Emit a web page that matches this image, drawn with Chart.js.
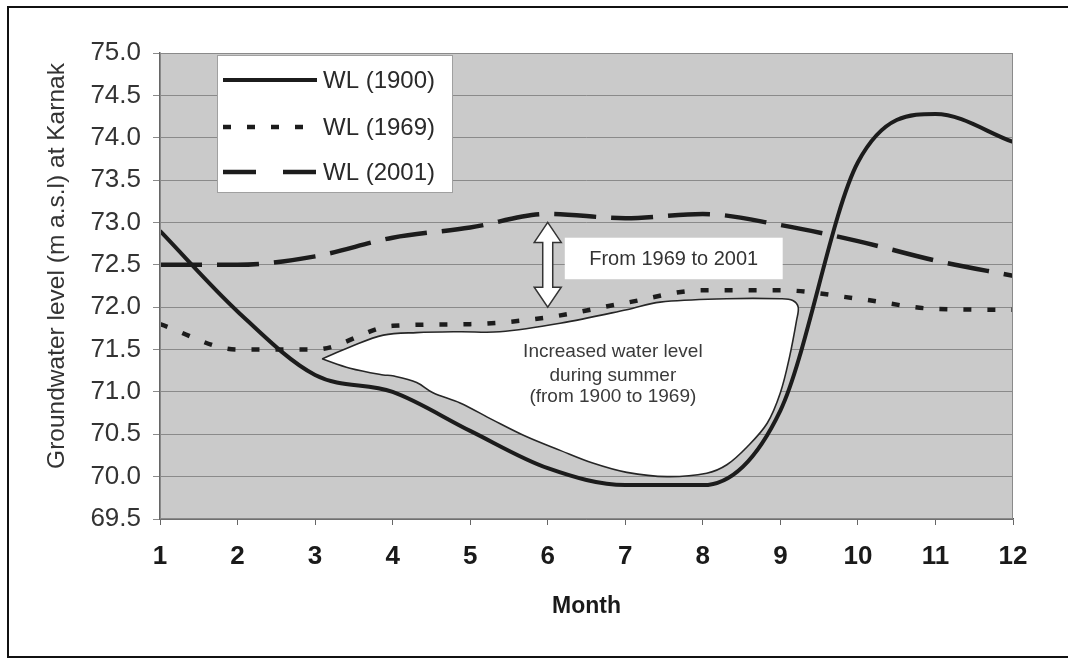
<!DOCTYPE html>
<html>
<head>
<meta charset="utf-8">
<script src="https://cdn.jsdelivr.net/npm/chart.js@4/dist/chart.umd.min.js"></script>
<style>
html,body{margin:0;padding:0;background:#fff;}
#wrap{width:1068px;height:660px;position:relative;}
</style>
</head>
<body>
<div id="wrap"><canvas id="c" width="1068" height="660"></canvas></div>
<script>
// ---- data ----
const months = [1, 2, 3, 4, 5, 6, 7, 8, 9, 10, 11, 12];
const wl1900 = [72.9, 71.95, 71.2, 71.0, 70.54, 70.1, 69.9, 69.9, 70.78, 73.71, 74.28, 73.95];
const wl1969 = [71.8, 71.5, 71.5, 71.78, 71.8, 71.88, 72.05, 72.2, 72.2, 72.1, 71.98, 71.97];
const wl2001 = [72.5, 72.5, 72.6, 72.82, 72.94, 73.1, 73.05, 73.1, 72.97, 72.78, 72.55, 72.37];
const yTicks = [69.5, 70.0, 70.5, 71.0, 71.5, 72.0, 72.5, 73.0, 73.5, 74.0, 74.5, 75.0];
const seriesLabels = ['WL (1900)', 'WL (1969)', 'WL (2001)'];
const yTitle = 'Groundwater level (m a.s.l) at Karnak';
const xTitle = 'Month';

// outline of the "increased water level" area (month, level)
const summerX = [3.09, 3.45, 3.88, 4.31, 4.87, 5.38, 6.16, 7.02, 7.45, 8.31, 9.00, 9.16, 9.23, 9.21, 9.12, 9.00, 8.83, 8.57, 8.31, 8.05, 7.54, 7.02, 6.58, 6.16, 5.73, 5.29, 4.87, 4.52, 4.31, 4.00, 3.88, 3.45, 3.09];
const summerY = [71.39, 71.53, 71.67, 71.70, 71.71, 71.71, 71.81, 71.97, 72.06, 72.10, 72.10, 72.08, 72.00, 71.85, 71.42, 70.99, 70.63, 70.35, 70.14, 70.04, 70.00, 70.05, 70.16, 70.31, 70.47, 70.67, 70.87, 70.99, 71.11, 71.19, 71.20, 71.28, 71.39];
const summerText = ['Increased water level', 'during summer', '(from 1900 to 1969)'];
const summerTextAt = {month: 6.84, levels: [71.47, 71.19, 70.94]};

// double arrow and its label
const arrowAt = {month: 6.0, from: 72.0, to: 73.0};
const noteText = 'From 1969 to 2001';
const noteBox = {m0: 6.22, m1: 9.03, top: 72.82, bottom: 72.33};

const FONT = "'Liberation Sans', Arial, Helvetica, sans-serif";
const INK = '#1c1c1c';
const styles = [
  {dash: [], width: 4},
  {dash: [8, 16], width: 4.5},
  {dash: [42, 15], width: 4.5}
];

const pts = vals => months.map((m, i) => ({x: m, y: vals[i]}));

const bgPlugin = {
  id: 'bg',
  beforeDraw(chart) {
    const {ctx, chartArea: a} = chart;
    ctx.save();
    ctx.fillStyle = '#ffffff';
    ctx.fillRect(0, 0, chart.width, chart.height);
    ctx.fillStyle = '#cacaca';
    ctx.fillRect(a.left, a.top, a.right - a.left, a.bottom - a.top);
    ctx.restore();
  }
};

const overlayPlugin = {
  id: 'overlay',
  afterDatasetsDraw(chart) {
    const {ctx, chartArea: a, scales: {x, y}} = chart;
    ctx.save();
    // plot outline
    ctx.strokeStyle = '#8a8a8a';
    ctx.lineWidth = 1;
    ctx.strokeRect(a.left + 0.5, a.top + 0.5, a.right - a.left - 1, a.bottom - a.top - 1);

    // summer text
    ctx.fillStyle = '#3a3a3a';
    ctx.font = '19px ' + FONT;
    ctx.textAlign = 'center';
    ctx.textBaseline = 'middle';
    summerText.forEach((t, i) => {
      ctx.fillText(t, x.getPixelForValue(summerTextAt.month), y.getPixelForValue(summerTextAt.levels[i]));
    });

    // note box
    const bx0 = x.getPixelForValue(noteBox.m0), bx1 = x.getPixelForValue(noteBox.m1);
    const by0 = y.getPixelForValue(noteBox.top), by1 = y.getPixelForValue(noteBox.bottom);
    ctx.fillStyle = '#ffffff';
    ctx.fillRect(bx0, by0, bx1 - bx0, by1 - by0);
    ctx.fillStyle = '#333333';
    ctx.font = '20px ' + FONT;
    ctx.fillText(noteText, (bx0 + bx1) / 2, (by0 + by1) / 2 + 1);

    // double arrow
    const ax = x.getPixelForValue(arrowAt.month);
    const ayT = y.getPixelForValue(arrowAt.to);
    const ayB = y.getPixelForValue(arrowAt.from);
    const hl = 20, hw = 13.5, sw = 5;
    ctx.beginPath();
    ctx.moveTo(ax, ayT);
    ctx.lineTo(ax + hw, ayT + hl);
    ctx.lineTo(ax + sw, ayT + hl);
    ctx.lineTo(ax + sw, ayB - hl);
    ctx.lineTo(ax + hw, ayB - hl);
    ctx.lineTo(ax, ayB);
    ctx.lineTo(ax - hw, ayB - hl);
    ctx.lineTo(ax - sw, ayB - hl);
    ctx.lineTo(ax - sw, ayT + hl);
    ctx.lineTo(ax - hw, ayT + hl);
    ctx.closePath();
    ctx.fillStyle = '#ffffff';
    ctx.fill();
    ctx.strokeStyle = '#333';
    ctx.lineWidth = 1.5;
    ctx.stroke();

    // legend
    const lx = a.left + 57, ly = a.top + 2, lw = 236, lh = 138;
    ctx.fillStyle = '#ffffff';
    ctx.fillRect(lx, ly, lw, lh);
    ctx.strokeStyle = '#a0a0a0';
    ctx.lineWidth = 1;
    ctx.strokeRect(lx + 0.5, ly + 0.5, lw - 1, lh - 1);
    const rows = [ly + 25, ly + 72, ly + 117];
    seriesLabels.forEach((lab, i) => {
      ctx.beginPath();
      ctx.setLineDash(i === 2 ? [33, 27] : styles[i].dash);
      ctx.lineWidth = styles[i].width;
      ctx.strokeStyle = INK;
      ctx.moveTo(lx + 6, rows[i]);
      ctx.lineTo(lx + 100, rows[i]);
      ctx.stroke();
      ctx.setLineDash([]);
      ctx.fillStyle = '#2a2a2a';
      ctx.font = '24px ' + FONT;
      ctx.textAlign = 'left';
      ctx.textBaseline = 'middle';
      ctx.fillText(lab, lx + 106, rows[i] + 1);
    });
    ctx.restore();
  },
  afterDraw(chart) {
    const {ctx, chartArea: a} = chart;
    ctx.save();
    // y title
    ctx.translate(57, (a.top + a.bottom) / 2 - 20);
    ctx.rotate(-Math.PI / 2);
    ctx.fillStyle = '#333';
    ctx.font = '24.5px ' + FONT;
    ctx.textAlign = 'center';
    ctx.textBaseline = 'middle';
    ctx.fillText(yTitle, 0, 0);
    ctx.restore();
    // outer frame
    ctx.save();
    ctx.strokeStyle = '#111';
    ctx.lineWidth = 2;
    ctx.beginPath();
    ctx.moveTo(1068, 7);
    ctx.lineTo(8, 7);
    ctx.lineTo(8, 657);
    ctx.lineTo(1068, 657);
    ctx.stroke();
    ctx.restore();
  }
};

new Chart(document.getElementById('c'), {
  type: 'line',
  data: {
    datasets: [
      {label: seriesLabels[0], data: pts(wl1900), borderColor: INK, borderWidth: styles[0].width,
       pointRadius: 0, cubicInterpolationMode: 'monotone', fill: false, order: 1},
      {label: seriesLabels[1], data: pts(wl1969), borderColor: INK, borderWidth: styles[1].width,
       borderDash: styles[1].dash, pointRadius: 0, cubicInterpolationMode: 'monotone', fill: false, order: 2},
      {label: seriesLabels[2], data: pts(wl2001), borderColor: INK, borderWidth: styles[2].width,
       borderDash: styles[2].dash, pointRadius: 0, cubicInterpolationMode: 'monotone', fill: false, order: 3},
      {label: 'summer', data: summerX.map((m, i) => ({x: m, y: summerY[i]})), borderColor: '#262626',
       borderWidth: 1.6, backgroundColor: '#ffffff', fill: 'shape', tension: 0.35, pointRadius: 0, order: 10}
    ]
  },
  options: {
    responsive: false,
    animation: false,
    devicePixelRatio: 1,
    layout: {padding: {left: 0, top: 53, right: 55, bottom: 0}},
    plugins: {legend: {display: false}, tooltip: {enabled: false}},
    scales: {
      x: {
        type: 'linear', min: 1, max: 12,
        afterBuildTicks: s => { s.ticks = months.map(v => ({value: v})); },
        ticks: {font: {family: FONT, size: 26, weight: 'bold'}, color: '#1a1a1a', padding: 16,
                callback: v => String(v), maxRotation: 0, autoSkip: false},
        grid: {drawOnChartArea: false, drawTicks: true, tickLength: 6, color: '#666'},
        border: {display: true, color: '#555', width: 1.5},
        title: {display: true, text: xTitle, font: {family: FONT, size: 23, weight: 'bold'}, color: '#1a1a1a',
                padding: {top: 0, bottom: 40}},
        afterFit: s => { s.height = 141; }
      },
      y: {
        type: 'linear', min: 69.5, max: 75,
        afterBuildTicks: s => { s.ticks = yTicks.map(v => ({value: v})); },
        ticks: {font: {family: FONT, size: 26}, color: '#333', padding: 12,
                callback: v => Number(v).toFixed(1)},
        grid: {color: '#8a8a8a', lineWidth: 1, tickLength: 7, drawTicks: true},
        border: {display: true, color: '#666', width: 1.5},
        afterFit: s => { s.width = 160; }
      }
    }
  },
  plugins: [bgPlugin, overlayPlugin]
});
</script>
</body>
</html>
